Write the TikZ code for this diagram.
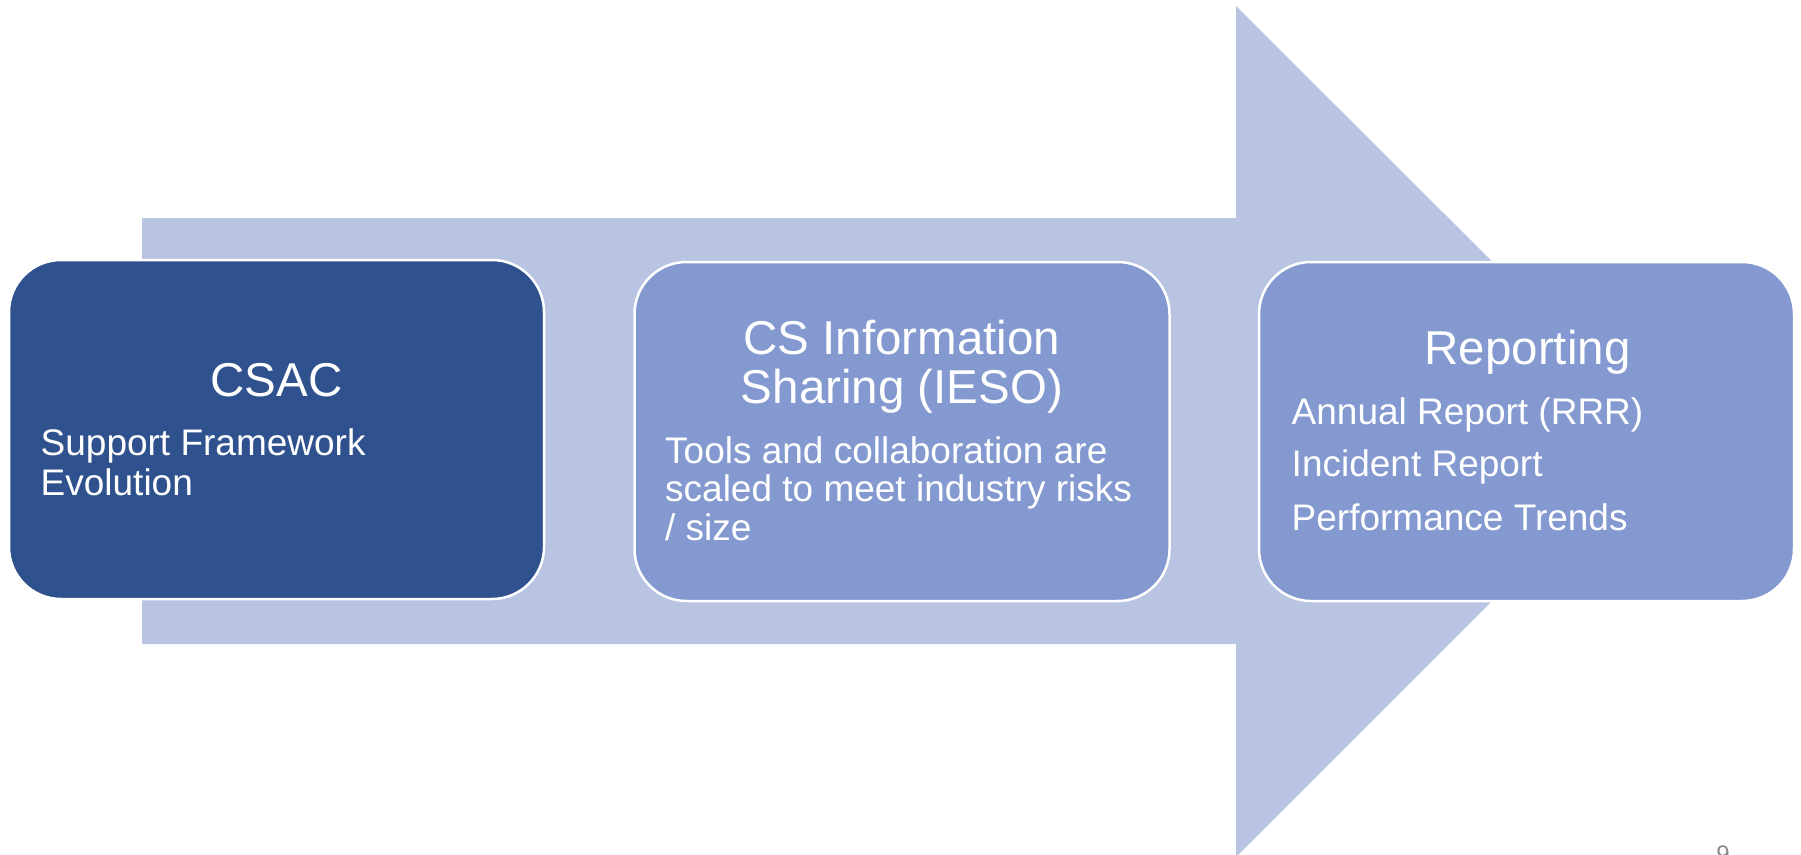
\documentclass[tikz,border=0pt]{standalone}
\usepackage{fontspec}
\setmainfont{Liberation Sans}
\definecolor{darkbox}{RGB}{47,82,143}
\definecolor{midbox}{RGB}{131,153,207}
\definecolor{arrowfill}{RGB}{184,196,226}
\definecolor{pagegray}{RGB}{137,137,137}
\begin{document}
\begin{tikzpicture}[x=1pt,y=-1pt,
  stagebox/.style={draw=white, line width=2.5pt, rounded corners=52pt, inner sep=0pt, minimum width=535pt, minimum height=339pt},
  titletext/.style={text=white, inner sep=0pt, font=\fontsize{47.5}{49.3}\selectfont},
  bodytext/.style={text=white, inner sep=0pt, font=\fontsize{37}{39}\selectfont},
]
\useasboundingbox (0,0) rectangle (1801,854);
\fill[arrowfill] (142,218) -- (1236,218) -- (1236,6) -- (1662,431) -- (1236,857) -- (1236,644) -- (142,644) -- cycle;
\node[stagebox, fill=darkbox] (b1) at (276.5,429.5) {};
\node[stagebox, fill=midbox] (b2) at (902,431.5) {};
\node[stagebox, fill=midbox] (b3) at (1526.5,431.5) {};
\node[titletext, anchor=base] (t1) at (276.5,396.7) {CSAC};
\node[bodytext, anchor=base west] (d1a) at (40.5,455.7) {Support Framework};
\node[bodytext, anchor=base west] (d1b) at (40.5,495) {Evolution};
\node[titletext, anchor=base] (t2a) at (902,354) {CS Information};
\node[titletext, anchor=base] (t2b) at (902,403.3) {Sharing (IESO)};
\node[bodytext, anchor=base west] (d2a) at (665,463.3) {Tools and collaboration are};
\node[bodytext, anchor=base west] (d2b) at (665,501.7) {scaled to meet industry risks};
\node[bodytext, anchor=base west] (d2c) at (665,540) {/ size};
\node[titletext, anchor=base] (t3) at (1527.5,364) {Reporting};
\node[bodytext, anchor=base west] (d3a) at (1291.5,424) {Annual Report (RRR)};
\node[bodytext, anchor=base west] (d3b) at (1291.5,476.7) {Incident Report};
\node[bodytext, anchor=base west] (d3c) at (1291.5,530) {Performance Trends};
\node[text=pagegray, inner sep=0pt, anchor=base, font=\fontsize{24}{24}\selectfont] (pg) at (1723,862) {9};
\end{tikzpicture}
\end{document}
